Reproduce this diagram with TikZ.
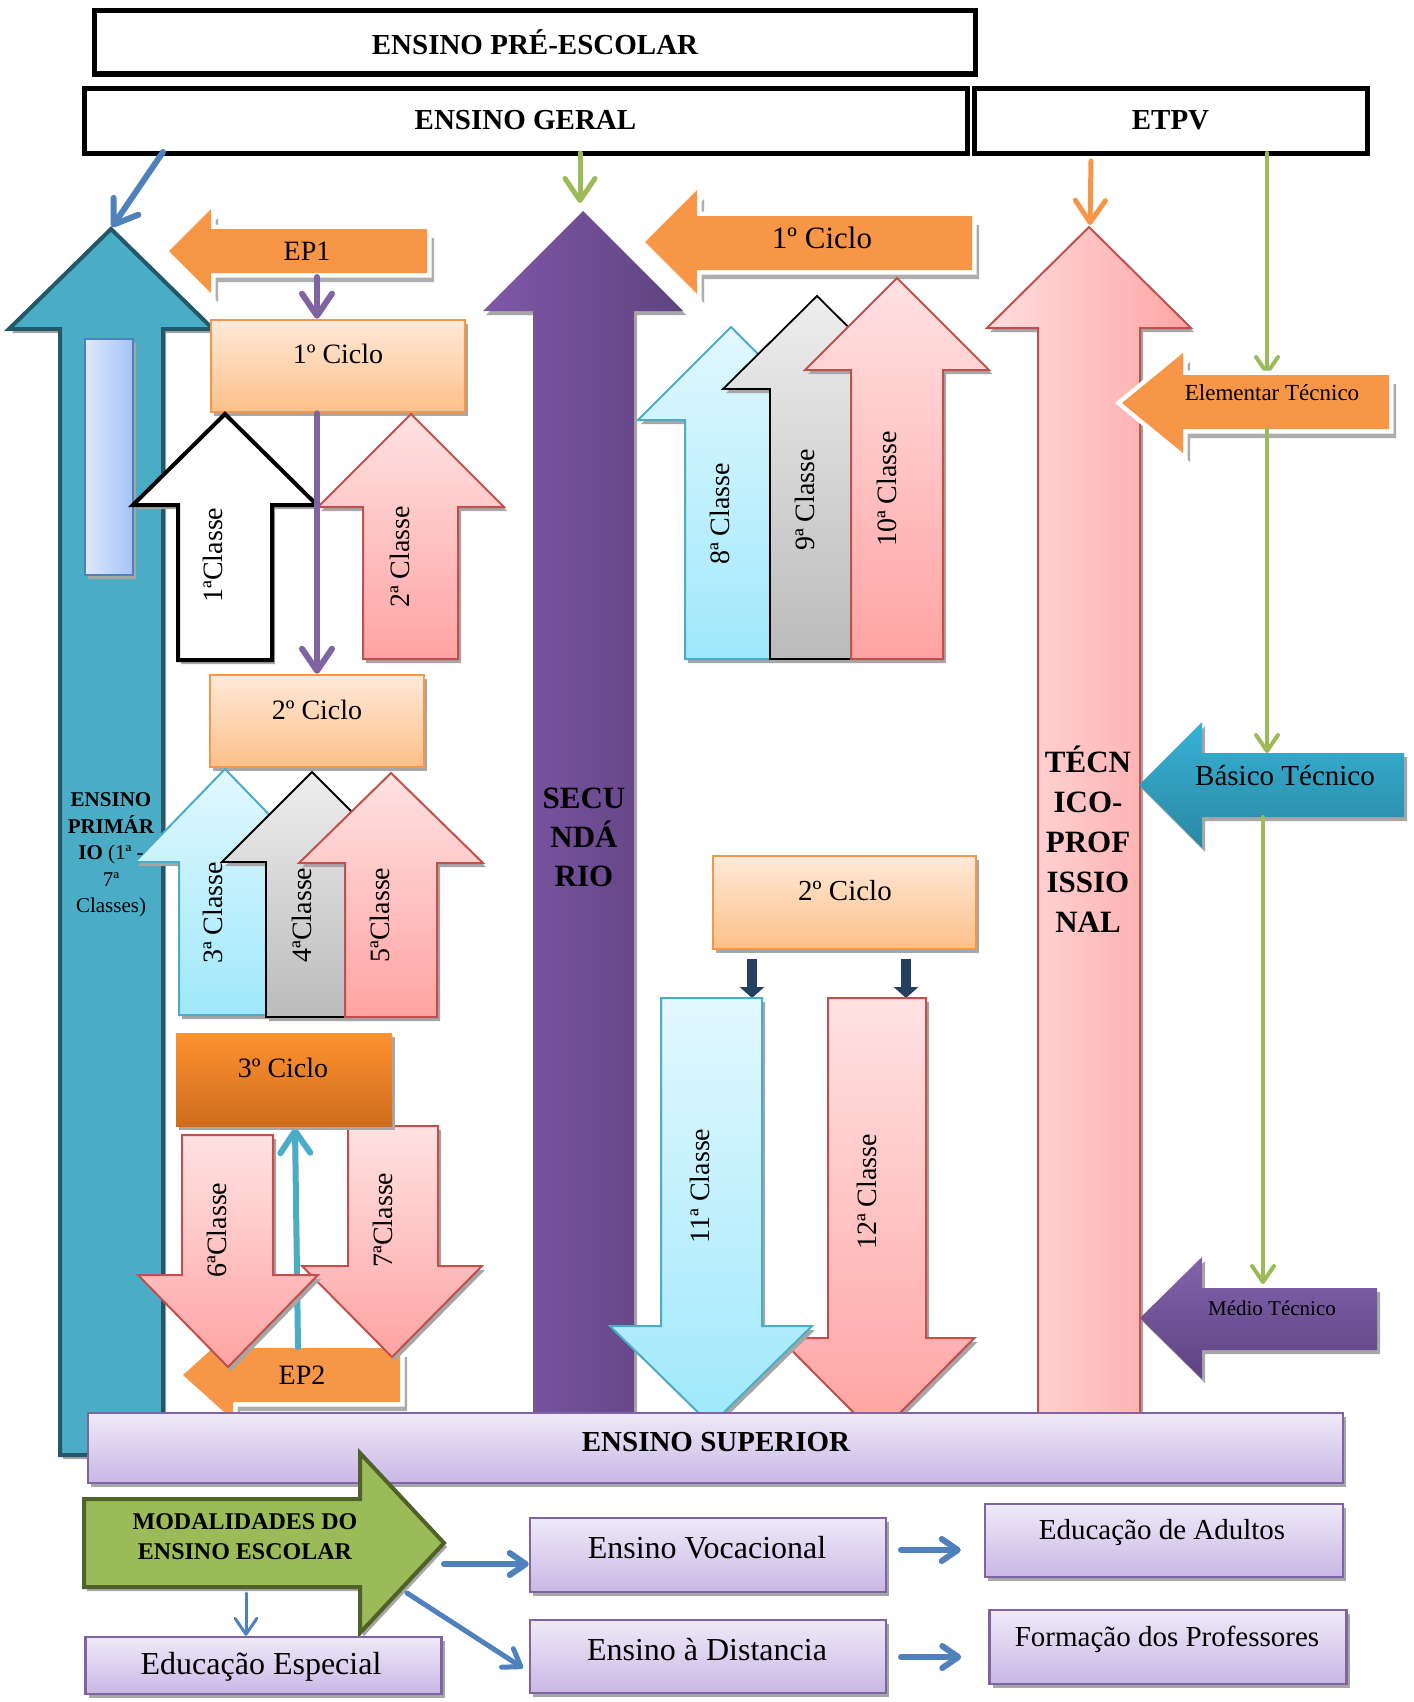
\documentclass[tikz,border=0pt]{standalone}
\usepackage{fontspec}
\setmainfont{Liberation Serif}
\usetikzlibrary{arrows.meta,shadows}
\definecolor{aqua}{HTML}{4BACC6}
\definecolor{aquaD}{HTML}{215968}
\definecolor{orng}{HTML}{F79646}
\definecolor{purp}{HTML}{8064A2}
\definecolor{grn}{HTML}{9BBB59}
\definecolor{grnD}{HTML}{4F6228}
\definecolor{blu}{HTML}{4F81BD}
\definecolor{navyA}{HTML}{243F60}
\definecolor{redB}{HTML}{C0504D}
\definecolor{pinkT}{HTML}{FFE2E2}
\definecolor{pinkB}{HTML}{FFA3A3}
\definecolor{cyanT}{HTML}{E2F8FE}
\definecolor{cyanB}{HTML}{9FE8FC}
\definecolor{grayT}{HTML}{EEEEEE}
\definecolor{grayB}{HTML}{BBBBBB}
\definecolor{peachT}{HTML}{FFE9D8}
\definecolor{peachB}{HTML}{FDC089}
\definecolor{lavT}{HTML}{EFEAF8}
\definecolor{lavB}{HTML}{C9B7E5}
\definecolor{ornT}{HTML}{FF9230}
\definecolor{ornB}{HTML}{CD6C1E}
\definecolor{purL}{HTML}{7F58A8}
\definecolor{purR}{HTML}{5F4380}
\definecolor{medT}{HTML}{8163AC}
\definecolor{medB}{HTML}{5E4381}
\definecolor{basT}{HTML}{37B2D4}
\definecolor{basB}{HTML}{2A88A5}
\definecolor{tecL}{HTML}{FFDEDE}
\definecolor{tecR}{HTML}{FFA5A5}
\definecolor{inL}{HTML}{DEE8FC}
\definecolor{inR}{HTML}{A5C3F8}
\newcommand{\fsz}[2]{\fontsize{#1}{#2}\selectfont}
% style, tipx, tipy, half head, head base y, shaft left, shaft right, end y
\newcommand{\BlkV}[8]{\path[#1] (#2,#3) -- ({#2+#4},#5) -- (#7,#5) -- (#7,#8) -- (#6,#8) -- (#6,#5) -- ({#2-#4},#5) -- cycle;}
% style, tipx, tipy, head base x, half head, shaft top, shaft bottom, end x
\newcommand{\BlkH}[8]{\path[#1] (#2,#3) -- (#4,{#3-#5}) -- (#4,#6) -- (#8,#6) -- (#8,#7) -- (#4,#7) -- (#4,{#3+#5}) -- cycle;}
\begin{document}
\begin{tikzpicture}[x=1pt,y=-1pt,
 sh/.style={drop shadow={shadow xshift=3pt,shadow yshift=-4pt,fill=black!35,opacity=1}},
 glow/.style={general shadow={shadow xshift=7pt,shadow yshift=-9pt,fill=black!32,opacity=1},preaction={draw=white,line width=9pt}},
 hdr/.style={draw=black,line width=5pt,fill=white,inner sep=0pt,font=\bfseries\fsz{29}{33}},
 peach/.style={draw=orng,line width=2.5pt,top color=peachT,bottom color=peachB,inner sep=0pt,sh},
 lav/.style={draw=purp,line width=2.5pt,top color=lavT,bottom color=lavB,inner sep=0pt,sh},
 pinkA/.style={draw=redB,line width=2pt,top color=pinkT,bottom color=pinkB,line join=miter,sh},
 cyanA/.style={draw=aqua,line width=2pt,top color=cyanT,bottom color=cyanB,line join=miter,sh},
 grayA/.style={draw=black,line width=1.8pt,top color=grayT,bottom color=grayB,line join=miter,sh},
 cls/.style={rotate=90,font=\fsz{28}{30},inner sep=0pt},
 lbl/.style={font=\fsz{28}{30},inner sep=0pt},
 bigcon/.style={line width=#1,line cap=round,-{Straight Barb[length=22pt,width=30pt,round]}},
 smcon/.style={line width=#1,line cap=round,-{Straight Barb[length=16pt,width=22pt,round]}},
]
\fill[white] (0,0) rectangle (1413,1702);
\useasboundingbox (0,0) rectangle (1413,1702);

% ---------- headers
\node[hdr,minimum width=881pt,minimum height=63pt] (pre) at (535,42.5) {ENSINO PRÉ-ESCOLAR};
\node[hdr,minimum width=883pt,minimum height=65pt] (geral) at (525.5,120.5) {ENSINO GERAL};
\node[hdr,minimum width=393pt,minimum height=65pt] (etpv) at (1170.5,120.5) {ETPV};

% ---------- coordinates for connectors
\coordinate (gA) at (163,152);
\coordinate (tealtip) at (112,227);
\coordinate (gB) at (580,153);
\coordinate (sectip) at (580,203);
\coordinate (eA) at (1091,161);
\coordinate (tectip) at (1090,225);
\coordinate (eB) at (1267,153);
\coordinate (elemtop) at (1267,375);
\coordinate (elembot) at (1267,429);
\coordinate (bastop) at (1267,753);
\coordinate (basbot) at (1263,817);
\coordinate (medtop) at (1263,1284);
\coordinate (ep1b) at (317,277);
\coordinate (ep2t) at (298,1347);
\coordinate (c3b) at (295,1128);
\coordinate (n1a) at (752,959);
\coordinate (n1b) at (752,998);
\coordinate (n2a) at (906,959);
\coordinate (n2b) at (906,998);

% ---------- Ensino primario (teal)
\BlkV{fill=aqua,draw=aquaD,line width=4pt,line join=miter,sh}{111}{229}{102}{329}{60}{163}{1455}
\node[draw=blu,line width=2pt,left color=inL,right color=inR,minimum width=48pt,minimum height=236pt,inner sep=0pt,sh] (inner) at (109,457) {};
\draw[bigcon=6pt,blu] (gA) -- (tealtip);

% EP1
\BlkH{fill=orng,glow}{169}{251}{211}{42}{229}{273}{427}
\node[lbl] (ep1) at (307,251) {EP1};

% 1o ciclo
\node[peach,minimum width=254pt,minimum height=92pt] (c1) at (338,366) {};
\node[lbl] (c1t) at (338,354) {1º Ciclo};
\draw[bigcon=6pt,purp] (ep1b) -- (c1.north -| ep1b);

\BlkV{fill=white,draw=black,line width=4pt,line join=miter,sh}{225}{414}{92}{505}{178}{272}{660}
\node[cls] (t1) at (213,555) {1ªClasse};
\BlkV{pinkA}{411}{414}{93}{507}{363}{458}{659}
\node[cls] (t2) at (400,557) {2ª Classe};

% 2o ciclo
\node[peach,minimum width=214pt,minimum height=92pt] (c2) at (317,721) {};
\node[lbl] (c2t) at (317,710) {2º Ciclo};
\draw[bigcon=6pt,purp] (c1.south -| ep1b) -- (c2.north -| ep1b);

\BlkV{cyanA}{225}{769}{90}{862}{179}{267}{1015}
\node[cls] (t3) at (213,913) {3ª Classe};
\BlkV{grayA}{312}{772}{90}{862}{266}{352}{1017}
\node[cls] (t4) at (302,915) {4ªClasse};
\BlkV{pinkA}{391}{773}{92}{863}{345}{437}{1017}
\node[cls] (t5) at (380,915) {5ªClasse};

\node[font=\fsz{21}{26.5},align=center,inner sep=0pt] (prim) at (111,855) {\textbf{ENSINO}\\\textbf{PRIMÁR}\\\textbf{IO} (1ª -\\7ª\\Classes)};

% EP2 and 3o ciclo
\BlkH{fill=orng,glow}{183}{1375}{233}{45}{1348}{1402}{400}
\node[lbl] (ep2) at (302,1375) {EP2};
\draw[bigcon=6pt,aqua] (ep2t) -- (c3b);
\BlkV{pinkA}{392}{1357}{90}{1266}{348}{438}{1126}
\node[cls] (t7) at (383,1220) {7ªClasse};
\BlkV{pinkA}{228}{1367}{90}{1275}{182}{273}{1135}
\node[cls] (t6) at (217,1230) {6ªClasse};
\node[top color=ornT,bottom color=ornB,minimum width=216pt,minimum height=93pt,inner sep=0pt,sh] (c3) at (284,1079.5) {};
\node[lbl] (c3t) at (283,1068) {3º Ciclo};

% ---------- Secundario
\BlkV{left color=purL,right color=purR,sh}{583}{211}{100}{311}{533}{634}{1413}
\draw[bigcon=5pt,grn] (gB) -- (sectip);
\node[font=\bfseries\fsz{31}{39},align=center,inner sep=0pt] (sec) at (584,837) {SECU\\NDÁ\\RIO};

\BlkH{fill=orng,glow}{645}{242}{697}{52}{216}{270}{972}
\node[font=\fsz{31}{33},inner sep=0pt] (c1s) at (822,238) {1º Ciclo};

\BlkV{cyanA}{731}{327}{93}{420}{685}{770}{659}
\node[cls] (t8) at (720,514) {8ª Classe};
\BlkV{grayA}{817}{296}{94}{389}{770}{852}{659}
\node[cls] (t9) at (805,500) {9ª Classe};
\BlkV{pinkA}{897}{278}{92}{370}{851}{943}{659}
\node[cls] (t10) at (887,489) {10ª Classe};

\node[peach,minimum width=263pt,minimum height=93pt] (c2s) at (844.5,902.5) {};
\node[font=\fsz{29}{31},inner sep=0pt] (c2st) at (845,891) {2º Ciclo};
\draw[navyA,line width=10pt,-{Triangle[length=11pt,width=24pt]}] (n1a) -- (n1b);
\draw[navyA,line width=10pt,-{Triangle[length=11pt,width=24pt]}] (n2a) -- (n2b);

\BlkV{pinkA}{877}{1436}{97.5}{1338}{828}{926}{998}
\node[cls] (t12) at (867,1192) {12ª Classe};
\BlkV{cyanA}{711}{1425}{101}{1326}{661}{762}{998}
\node[cls] (t11) at (700,1186) {11ª Classe};

% ---------- Tecnico-profissional
\BlkV{left color=tecL,right color=tecR,draw=redB,line width=2pt,line join=miter,sh}{1089}{227}{102}{328}{1038}{1140}{1413}
\draw[bigcon=5pt,orng] (eA) -- (tectip);
\node[font=\bfseries\fsz{31}{40},align=center,inner sep=0pt] (tec) at (1088,839) {TÉCN\\ICO-\\PROF\\ISSIO\\NAL};

\draw[smcon=4pt,grn] (eB) -- (elemtop);
\BlkH{fill=orng,glow}{1122}{403}{1183}{50}{375}{429}{1389}
\node[font=\fsz{23}{25},inner sep=0pt] (elt) at (1272,393) {Elementar Técnico};
\draw[smcon=4pt,grn] (elembot) -- (bastop);
\BlkH{top color=basT,bottom color=basB,sh}{1139}{785}{1202}{63}{753}{817}{1404}
\node[font=\fsz{29}{31},inner sep=0pt] (bst) at (1285,776) {Básico Técnico};
\draw[smcon=4pt,grn] (basbot) -- (medtop);
\BlkH{top color=medT,bottom color=medB,sh}{1140}{1318}{1202}{61}{1288}{1350}{1377}
\node[font=\fsz{21}{23},inner sep=0pt] (mdt) at (1272,1308) {Médio Técnico};

% ---------- Ensino superior
\node[lav,minimum width=1255pt,minimum height=70pt] (sup) at (715.5,1448) {};
\node[font=\bfseries\fsz{29}{31},inner sep=0pt] (supt) at (716,1442) {ENSINO SUPERIOR};

% ---------- Modalidades
\BlkH{fill=grn,draw=grnD,line width=4pt,line join=miter,sh}{444}{1543}{360}{90}{1499}{1587}{84}
\node[font=\bfseries\fsz{24}{30},align=center,inner sep=0pt] (modt) at (245,1537) {MODALIDADES DO\\ENSINO ESCOLAR};

\node[lav,minimum width=356pt,minimum height=74pt] (voc) at (708,1555) {};
\node[font=\fsz{32}{34},inner sep=0pt] (voct) at (707,1548) {Ensino Vocacional};
\node[lav,minimum width=356pt,minimum height=73pt] (dst) at (708,1656.5) {};
\node[font=\fsz{32}{34},inner sep=0pt] (dstt) at (707,1650) {Ensino à Distancia};
\node[lav,minimum width=356pt,minimum height=57pt] (esp) at (263.5,1665.5) {};
\node[font=\fsz{32}{34},inner sep=0pt] (espt) at (261,1667) {Educação Especial};
\node[lav,minimum width=358pt,minimum height=73pt] (adl) at (1164,1540.5) {};
\node[font=\fsz{29}{31},inner sep=0pt] (adlt) at (1162,1533) {Educação de Adultos};
\node[lav,minimum width=357pt,minimum height=74pt] (frm) at (1168,1647) {};
\node[font=\fsz{29}{31},inner sep=0pt] (frmt) at (1167,1639) {Formação dos Professores};

\coordinate (m1) at (444,1564);
\coordinate (m2) at (407,1593);
\coordinate (m2e) at (523,1668);
\coordinate (m3) at (246,1593);
\coordinate (v1) at (901,1550);
\coordinate (d1) at (901,1657);
\draw[smcon=6pt,blu] (m1) -- (m1 -| voc.west);
\draw[smcon=5pt,blu] (m2) -- (m2e);
\draw[smcon=3pt,blu] (m3) -- (m3 |- esp.north);
\draw[smcon=6pt,blu,shorten >=23pt] (v1) -- (v1 -| adl.west);
\draw[smcon=6pt,blu,shorten >=27pt] (d1) -- (d1 -| frm.west);
\end{tikzpicture}
\end{document}
